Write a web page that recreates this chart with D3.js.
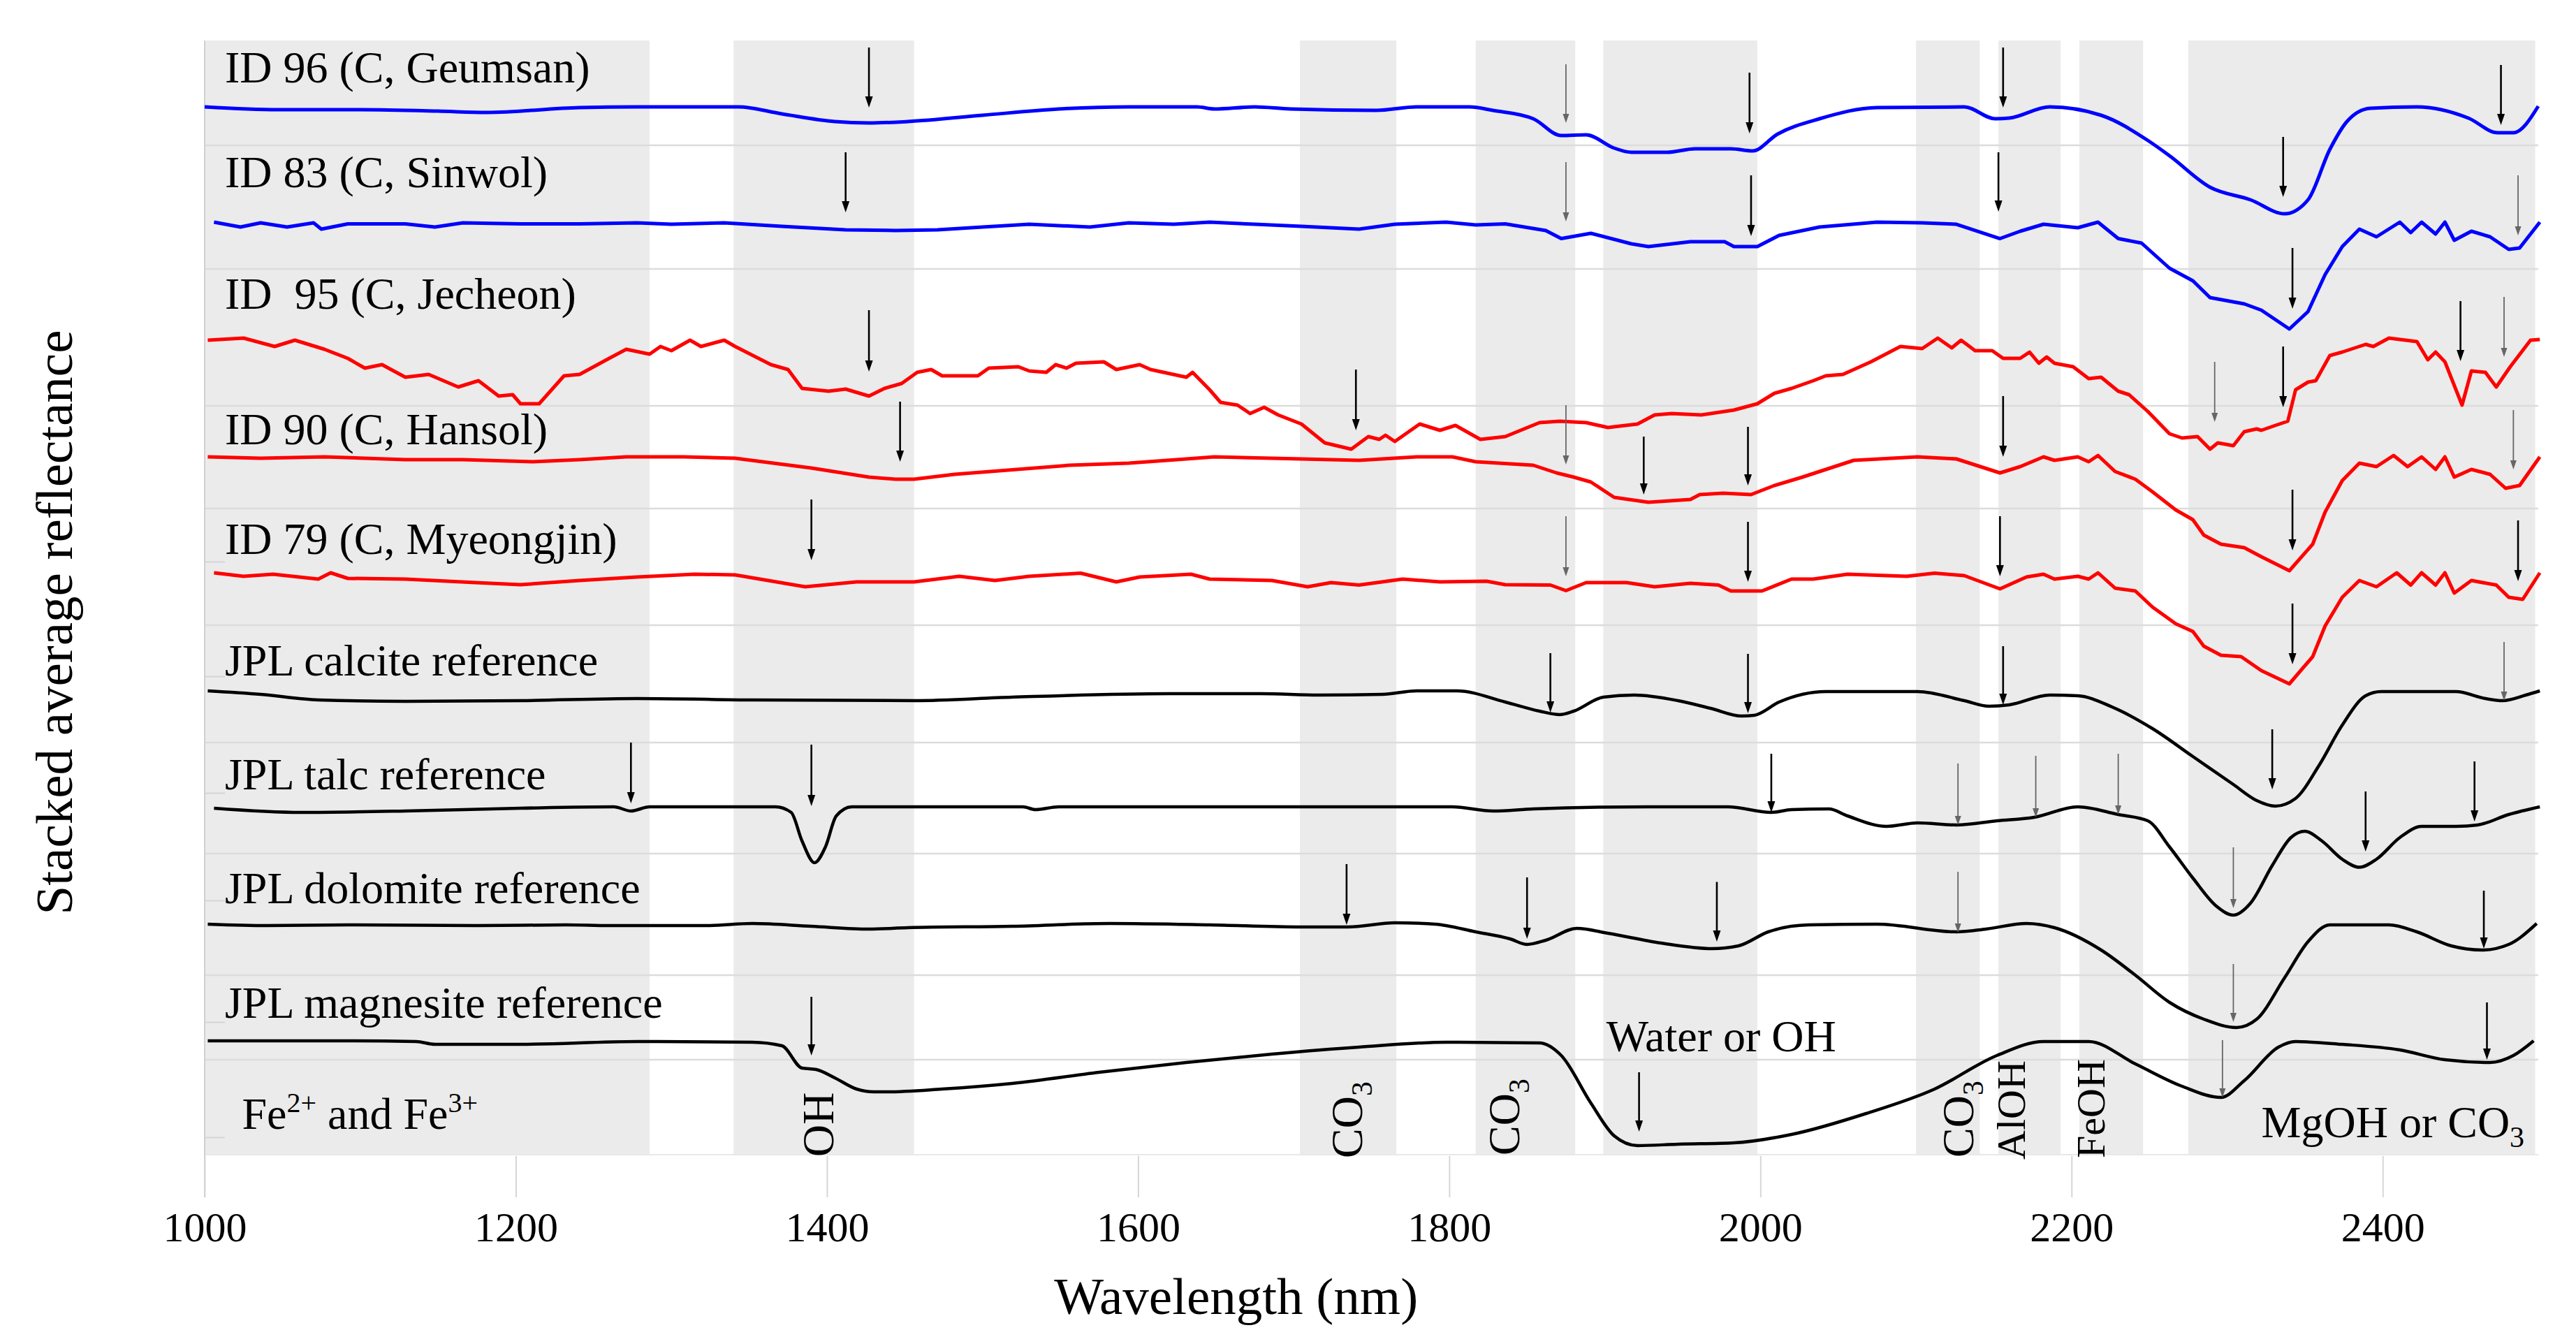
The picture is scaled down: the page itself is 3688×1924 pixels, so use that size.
<!DOCTYPE html>
<html>
<head>
<meta charset="utf-8">
<script src="https://cdn.jsdelivr.net/npm/d3@7"></script>
<style>
  body { margin: 0; background: #fff; }
  text { font-family: "Liberation Serif", "Times New Roman", serif; fill: #000; }
</style>
</head>
<body>
<div id="chart"></div>
<script>
const width = 3688;
const height = 1924;
const serif = '"Liberation Serif", "Times New Roman", serif';

// [wavelength nm, stacked reflectance]
const id96 = [[1000,150.0],[1047,149.6],[1100,149.6],[1150,149.4],[1181,149.2],[1241,149.9],[1278,150.0],[1343,150.0],[1371,149.0],[1405,147.9],[1427,147.7],[1452,147.9],[1500,148.8],[1549,149.7],[1594,150.0],[1638,150.0],[1649,149.7],[1675,150.0],[1698,149.7],[1753,149.5],[1779,150.0],[1813,150.0],[1828,149.5],[1854,148.3],[1872,145.9],[1888,146.0],[1906,144.1],[1917,143.5],[1940,143.5],[1958,144.0],[1981,144.0],[1995,143.7],[2011,146.1],[2038,148.3],[2075,149.9],[2131,150.0],[2151,148.3],[2160,148.4],[2186,150.0],[2219,148.8],[2249,145.2],[2263,143.0],[2289,138.5],[2315,136.7],[2337,134.7],[2352,136.7],[2366,143.9],[2377,147.9],[2392,149.8],[2422,150.0],[2455,148.4],[2474,146.3],[2484,146.3],[2500,150.1]];

const id83 = [[1006,133.5],[1023,132.8],[1036,133.4],[1053,132.8],[1070,133.4],[1075,132.5],[1092,133.25],[1129,133.25],[1148,132.8],[1166,133.4],[1203,133.25],[1241,133.25],[1278,133.4],[1300,133.2],[1334,133.4],[1371,132.9],[1412,132.4],[1444,132.3],[1471,132.4],[1500,132.8],[1530,133.2],[1569,132.8],[1594,133.4],[1623,133.2],[1646,133.5],[1675,133.2],[1705,132.9],[1742,132.5],[1765,133.2],[1798,133.5],[1817,133.1],[1836,133.25],[1862,132.3],[1872,131.15],[1891,131.9],[1917,130.4],[1928,130.0],[1955,130.7],[1977,130.7],[1983,130.0],[1998,130.0],[2012,131.6],[2038,132.8],[2075,133.5],[2104,133.4],[2126,133.2],[2154,131.15],[2167,132.2],[2182,133.2],[2204,132.7],[2217,133.5],[2230,131.15],[2245,130.5],[2263,126.9],[2278,125.1],[2289,122.7],[2311,121.8],[2322,120.9],[2340,118.2],[2352,120.7],[2363,126.0],[2374,130.0],[2385,132.5],[2396,131.4],[2411,133.5],[2418,132.0],[2425,133.5],[2434,131.8],[2440,133.5],[2446,130.9],[2457,132.2],[2469,131.4],[2481,129.6],[2488,129.8],[2501,133.5]];

const id95 = [[1002,116.6],[1025,116.9],[1045,115.7],[1058,116.6],[1077,115.3],[1092,114.0],[1103,112.6],[1114,113.1],[1129,111.3],[1144,111.7],[1163,109.9],[1176,110.8],[1189,108.6],[1198,108.8],[1203,107.5],[1215,107.5],[1231,111.5],[1241,111.7],[1260,114.0],[1271,115.3],[1286,114.6],[1293,115.7],[1300,115.1],[1312,116.6],[1319,115.7],[1334,116.6],[1341,115.7],[1364,113.1],[1375,112.4],[1384,109.7],[1401,109.3],[1412,109.6],[1427,108.6],[1437,109.7],[1448,110.4],[1458,112.0],[1467,112.4],[1474,111.5],[1497,111.5],[1504,112.6],[1523,112.8],[1530,112.2],[1541,112.0],[1547,113.1],[1554,112.6],[1560,113.3],[1578,113.5],[1586,112.4],[1601,113.1],[1608,112.4],[1631,111.3],[1635,112.0],[1646,109.5],[1653,107.7],[1664,107.3],[1672,106.1],[1681,107.0],[1690,105.9],[1705,104.6],[1720,101.9],[1737,101.0],[1748,102.8],[1755,102.4],[1759,103.0],[1765,102.1],[1781,104.6],[1794,103.7],[1804,104.4],[1820,102.4],[1836,102.8],[1858,104.8],[1871,105.0],[1888,104.8],[1902,104.1],[1921,104.6],[1932,105.9],[1943,106.1],[1962,105.9],[1977,106.4],[1983,106.6],[1998,107.5],[2009,109.0],[2020,109.7],[2034,110.8],[2042,111.5],[2053,111.7],[2071,113.5],[2090,115.7],[2104,115.4],[2114,116.9],[2123,115.5],[2129,116.6],[2138,115.1],[2149,115.1],[2156,114.0],[2167,114.0],[2173,114.9],[2179,113.3],[2184,114.2],[2189,113.3],[2201,112.8],[2211,111.1],[2219,111.3],[2230,109.3],[2237,108.8],[2249,106.4],[2263,103.2],[2271,102.6],[2281,102.8],[2289,101.0],[2294,101.9],[2304,101.5],[2311,103.5],[2319,103.9],[2322,103.7],[2331,104.4],[2339,105.0],[2344,109.5],[2352,110.6],[2357,110.8],[2366,114.4],[2374,114.9],[2389,116.0],[2394,115.7],[2404,116.9],[2422,116.4],[2429,113.8],[2434,114.9],[2440,113.5],[2451,107.3],[2457,112.2],[2466,112.0],[2473,109.9],[2482,112.8],[2495,116.6],[2501,116.7]];

const id90 = [[1002,99.9],[1036,99.7],[1077,99.9],[1129,99.5],[1166,99.5],[1211,99.2],[1241,99.5],[1271,99.9],[1308,99.9],[1341,99.7],[1390,98.3],[1427,97.0],[1444,96.7],[1456,96.7],[1482,97.4],[1556,98.7],[1594,99.0],[1631,99.6],[1649,99.9],[1705,99.6],[1742,99.4],[1779,99.9],[1802,99.9],[1817,99.2],[1854,98.7],[1869,97.6],[1880,97.0],[1891,96.3],[1906,94.1],[1928,93.4],[1955,93.8],[1961,94.5],[1976,94.7],[1994,94.5],[2009,95.8],[2027,97.0],[2060,99.4],[2101,99.9],[2126,99.6],[2154,97.6],[2167,98.5],[2182,99.9],[2189,99.4],[2204,99.9],[2211,99.2],[2217,100.1],[2228,97.8],[2241,96.7],[2252,94.9],[2267,92.3],[2278,90.9],[2285,88.7],[2296,87.4],[2311,86.9],[2322,85.6],[2340,83.6],[2355,87.4],[2363,92.0],[2374,96.5],[2385,99.0],[2396,98.5],[2407,100.1],[2416,98.5],[2425,99.9],[2434,98.1],[2440,99.9],[2446,97.0],[2457,98.1],[2469,97.4],[2479,95.4],[2488,95.8],[2501,99.9]];

const id79 = [[1006,83.3],[1025,82.8],[1044,83.1],[1073,82.4],[1081,83.3],[1092,82.5],[1129,82.4],[1174,81.9],[1203,81.6],[1241,82.2],[1278,82.7],[1315,83.1],[1341,83.0],[1386,81.3],[1419,82.0],[1456,82.0],[1485,82.8],[1508,82.2],[1530,82.8],[1563,83.25],[1586,82.0],[1601,82.7],[1634,83.1],[1646,82.4],[1686,82.2],[1709,81.3],[1724,81.9],[1742,81.55],[1770,82.4],[1794,82.0],[1824,82.1],[1836,81.6],[1865,81.55],[1875,80.75],[1888,81.9],[1914,81.9],[1932,81.3],[1955,81.8],[1973,81.55],[1981,80.7],[2001,80.7],[2020,82.4],[2034,82.4],[2056,83.1],[2094,82.8],[2112,83.25],[2131,82.9],[2154,81.0],[2171,82.7],[2182,83.1],[2189,82.4],[2204,82.8],[2211,82.4],[2217,83.3],[2228,81.1],[2241,80.7],[2252,78.4],[2267,76.0],[2278,74.9],[2285,72.8],[2296,71.5],[2309,71.3],[2322,69.3],[2340,67.4],[2355,71.3],[2363,75.7],[2374,79.8],[2385,82.2],[2396,81.3],[2409,83.3],[2418,81.55],[2425,83.3],[2434,81.55],[2440,83.3],[2446,80.4],[2457,82.2],[2473,81.55],[2481,79.8],[2490,79.5],[2501,83.3]];

const calcite = [[1002,66.4],[1036,65.9],[1073,65.1],[1129,64.9],[1203,65.0],[1278,65.3],[1352,65.1],[1456,65.0],[1519,65.5],[1620,66.0],[1679,66.0],[1716,65.8],[1757,65.9],[1779,66.4],[1805,66.4],[1836,64.8],[1858,63.5],[1871,63.0],[1880,63.5],[1899,65.5],[1919,65.8],[1947,65.0],[1968,63.9],[1988,62.8],[1996,62.9],[2012,64.8],[2042,66.3],[2101,66.3],[2131,65.0],[2147,64.2],[2160,64.4],[2186,65.8],[2204,65.7],[2226,64.1],[2252,61.0],[2278,57.0],[2304,53.0],[2319,50.7],[2331,49.9],[2344,51.0],[2359,55.7],[2374,61.5],[2389,65.7],[2399,66.3],[2447,66.3],[2466,65.3],[2477,65.0],[2492,65.8],[2501,66.4]];

const talc = [[1006,49.6],[1062,49.0],[1129,49.2],[1203,49.6],[1263,49.8],[1274,49.2],[1286,49.8],[1367,49.8],[1377,49.0],[1384,44.9],[1392,41.8],[1399,44.05],[1406,48.5],[1416,49.8],[1526,49.8],[1534,49.4],[1549,49.8],[1802,49.8],[1828,49.2],[1854,49.5],[1928,49.8],[1979,49.8],[2007,49.0],[2020,49.4],[2044,49.5],[2056,48.5],[2081,47.0],[2101,47.5],[2126,47.2],[2152,47.8],[2176,48.3],[2204,49.8],[2230,48.7],[2249,47.8],[2263,44.05],[2278,39.6],[2293,35.6],[2304,34.3],[2315,36.0],[2329,41.4],[2341,45.4],[2350,46.3],[2361,44.9],[2374,42.3],[2385,41.15],[2396,42.3],[2411,45.4],[2425,47.0],[2447,47.0],[2461,47.2],[2481,48.7],[2501,49.8]];

const dolomite = [[1002,33.0],[1040,32.8],[1092,32.9],[1176,32.8],[1233,32.9],[1260,32.8],[1323,32.8],[1352,33.1],[1390,32.7],[1427,32.3],[1452,32.5],[1519,32.7],[1582,33.1],[1646,32.9],[1705,32.6],[1735,32.6],[1765,33.2],[1791,33.0],[1817,31.9],[1839,30.9],[1850,30.1],[1862,30.7],[1882,32.4],[1902,31.7],[1936,30.3],[1969,29.5],[1986,29.9],[2005,31.9],[2031,32.9],[2075,33.0],[2126,31.9],[2145,32.3],[2171,33.1],[2189,32.5],[2219,29.3],[2241,25.7],[2263,21.8],[2285,19.4],[2306,18.2],[2319,19.4],[2337,25.35],[2352,30.5],[2366,32.9],[2404,32.9],[2422,31.9],[2444,29.9],[2464,29.3],[2481,30.1],[2499,33.1]];

const magnesite = [[1002,16.3],[1092,16.3],[1136,16.2],[1148,15.8],[1203,15.8],[1278,16.2],[1352,16.1],[1371,15.6],[1384,12.4],[1393,12.2],[1405,11.0],[1419,9.4],[1430,9.0],[1438,9.0],[1474,9.4],[1519,10.2],[1575,11.8],[1631,13.2],[1686,14.4],[1742,15.4],[1798,16.1],[1858,16.0],[1872,14.2],[1891,7.4],[1906,2.7],[1921,1.3],[1947,1.5],[1983,1.7],[2020,2.9],[2068,5.9],[2112,9.4],[2152,14.2],[2182,16.2],[2211,16.2],[2241,13.0],[2271,9.8],[2296,8.2],[2311,10.6],[2333,15.4],[2344,16.2],[2374,15.8],[2411,15.0],[2440,13.6],[2469,13.2],[2484,14.2],[2497,16.3]];

const seriesData = [id96, id83, id95, id90, id79, calcite, talc, dolomite, magnesite];
const seriesNames = ['ID 96 (C, Geumsan)', 'ID 83 (C, Sinwol)', 'ID  95 (C, Jecheon)', 'ID 90 (C, Hansol)',
  'ID 79 (C, Myeongjin)', 'JPL calcite reference', 'JPL talc reference', 'JPL dolomite reference',
  'JPL magnesite reference'];
const seriesColors = ['#0000ff', '#0000ff', '#ff0000', '#ff0000', '#ff0000', '#000', '#000', '#000', '#000'];
const seriesSmooth = [true, false, false, false, false, true, true, true, true];
const labelValues = [153.5, 138.5, 121.1, 101.7, 86.0, 68.6, 52.3, 36.0, 19.6];

// absorption windows, nm
const bands = [[1000, 1286], [1340, 1456], [1704, 1766], [1817, 1881], [1899, 1998],
  [2100, 2141], [2153, 2193], [2205, 2246], [2275, 2498]];

const gridValues = [144.5, 126.8, 107.2, 92.5, 75.8, 59.0, 43.1, 25.7, 13.6];
const leftTicks = [84.9, 68.5, 51.8, 36.4, 19.0, 2.5];
const xTicks = [1000, 1200, 1400, 1600, 1800, 2000, 2200, 2400];

// [nm, arrow top, arrow tip, dark]
const arrows = [
  [1427, 158.5, 149.9, 1], [1875, 156.1, 147.7, 0], [1993, 154.9, 146.2, 1], [2156, 158.5, 149.9, 1], [2336, 145.7, 137.1, 1], [2476, 156.0, 147.4, 1],
  [1412, 143.5, 134.9, 1], [1875, 142.1, 133.6, 0], [1994, 140.2, 131.5, 1], [2153, 143.5, 135.0, 1], [2342, 129.8, 121.1, 1], [2487, 140.2, 131.6, 0],
  [1427, 120.9, 112.1, 1], [1740, 112.4, 103.7, 1], [2292, 113.5, 104.9, 0], [2336, 115.7, 107.0, 1], [2450, 122.2, 113.6, 1], [2478, 122.8, 114.2, 0],
  [1447, 107.8, 99.2, 1], [1875, 107.3, 98.8, 0], [1925, 102.8, 94.5, 1], [1992, 104.2, 95.8, 1], [2156, 108.6, 99.9, 1], [2342, 95.2, 86.5, 1], [2484, 106.6, 98.1, 0],
  [1390, 93.8, 85.1, 1], [1875, 91.4, 82.8, 0], [1992, 90.6, 82.0, 1], [2154, 91.4, 82.8, 1], [2342, 78.9, 70.2, 1], [2487, 90.8, 82.1, 1],
  [1865, 71.8, 63.3, 1], [1992, 71.7, 63.2, 1], [2156, 72.8, 64.4, 1], [2329, 60.9, 52.3, 1], [2478, 73.4, 65.0, 0],
  [1274, 59.0, 50.3, 1], [1390, 58.7, 49.9, 1], [2007, 57.4, 49.0, 1], [2127, 56.0, 47.2, 0], [2177, 57.1, 48.3, 0], [2230, 57.4, 48.7, 0], [2304, 44.0, 35.3, 0], [2389, 52.0, 43.4, 1], [2459, 56.3, 47.7, 1],
  [1734, 41.6, 32.9, 1], [1850, 39.7, 30.9, 1], [1972, 39.05, 30.5, 1], [2127, 40.5, 31.8, 0], [2304, 27.3, 19.0, 0], [2465, 37.8, 29.5, 1],
  [1390, 22.6, 14.2, 1], [1922, 11.8, 3.3, 1], [2297, 16.4, 8.2, 0], [2467, 21.8, 13.6, 1]
];

// vertical band labels: [text, subscript, nm of baseline, value of start, size]
const bandLabels = [
  ['OH', '', 1404, -0.3, 64], ['CO', '3', 1744, -0.5, 64], ['CO', '3', 1845, -0.1, 64],
  ['CO', '3', 2137, -0.4, 64], ['AlOH', '', 2170, -0.7, 58], ['FeOH', '', 2221, -0.5, 58]
];

const x = d3.scaleLinear().domain([1000, 2500]).range([293, 3634]);
const y = d3.scaleLinear().domain([0, 160]).range([1653, 53]);

const svg = d3.select('#chart')
  .append('svg')
    .attr('width', width)
    .attr('height', height)
    .attr('font-family', serif);

svg.append('g')
  .selectAll('rect')
  .data(bands)
  .join('rect')
    .attr('x', d => x(d[0]))
    .attr('width', d => x(d[1]) - x(d[0]))
    .attr('y', y(159.5))
    .attr('height', y(0) - y(159.5))
    .attr('fill', '#ebebeb');

svg.append('g')
  .selectAll('line')
  .data(gridValues)
  .join('line')
    .attr('x1', x(1000))
    .attr('x2', x(2500))
    .attr('y1', d => y(d))
    .attr('y2', d => y(d))
    .attr('stroke', '#dcdcdc')
    .attr('stroke-width', 2.5);

svg.append('line')
  .attr('x1', x(1000)).attr('x2', x(2500))
  .attr('y1', y(0)).attr('y2', y(0))
  .attr('stroke', '#e8e8e8')
  .attr('stroke-width', 2);

svg.append('g')
  .attr('transform', `translate(${x(1000)},0)`)
  .call(d3.axisLeft(y).tickValues(leftTicks).tickSizeInner(-29).tickSizeOuter(0).tickFormat(''))
  .call(g => g.select('.domain').remove())
  .call(g => g.selectAll('line').attr('stroke', '#d4d4d4').attr('stroke-width', 2));

svg.append('line')
  .attr('x1', x(1000)).attr('x2', x(1000))
  .attr('y1', y(159.5)).attr('y2', y(0) + 61)
  .attr('stroke', '#d0d0d0')
  .attr('stroke-width', 2);

svg.append('g')
  .attr('class', 'axis')
  .attr('transform', `translate(0,${y(0) + 2})`)
  .call(d3.axisBottom(x).tickValues(xTicks).tickSize(59).tickPadding(20).tickFormat(d3.format('d')))
  .attr('font-family', serif)
  .attr('font-size', 60)
  .call(g => g.select('.domain').remove())
  .call(g => g.selectAll('line').attr('stroke', '#d6d6d6').attr('stroke-width', 2))
  .call(g => g.selectAll('text').attr('fill', '#000'));

const lineFor = smooth => d3.line()
  .x(d => x(d[0]))
  .y(d => y(d[1]))
  .curve(smooth ? d3.curveMonotoneX : d3.curveLinear);

seriesData.forEach((data, i) =>
  svg.append('path')
    .datum(data)
    .attr('d', lineFor(seriesSmooth[i]))
    .attr('fill', 'none')
    .attr('stroke', seriesColors[i])
    .attr('stroke-width', i < 5 ? 5 : 4.5)
    .attr('stroke-linejoin', 'round'));

svg.append('g')
  .selectAll('text')
  .data(seriesNames)
  .join('text')
    .attr('x', x(1013))
    .attr('y', (d, i) => y(labelValues[i]))
    .attr('font-size', 64)
    .style('white-space', 'pre')
    .text(d => d);

const drawArrow = ([nm, top, tip, dark]) => {
  const cx = x(nm);
  const ty = y(tip);
  const hl = dark ? 16 : 13;
  const hw = dark ? 5.5 : 4.5;
  const color = dark ? '#000' : '#666';
  svg.append('line')
    .attr('x1', cx).attr('x2', cx)
    .attr('y1', y(top)).attr('y2', ty - hl + 2)
    .attr('stroke', color)
    .attr('stroke-width', dark ? 2.6 : 1.8);
  svg.append('path')
    .attr('d', `M${cx - hw},${ty - hl}L${cx + hw},${ty - hl}L${cx},${ty}Z`)
    .attr('fill', color);
};
arrows.forEach(drawArrow);

bandLabels.forEach(([main, sub, nm, v, size]) => {
  const t = svg.append('text')
    .attr('transform', `translate(${x(nm)},${y(v)}) rotate(-90)`)
    .attr('font-size', size)
    .text(main);
  if (sub) t.append('tspan').attr('dy', 14).attr('font-size', 42).text(sub);
});

const fe = svg.append('text')
  .attr('x', x(1024)).attr('y', y(3.7))
  .attr('font-size', 64);
fe.append('tspan').text('Fe');
fe.append('tspan').attr('dy', -24).attr('font-size', 40).text('2+');
fe.append('tspan').attr('dy', 24).text(' and Fe');
fe.append('tspan').attr('dy', -24).attr('font-size', 40).text('3+');

svg.append('text')
  .attr('x', x(1901)).attr('y', y(14.8))
  .attr('font-size', 64)
  .text('Water or OH');

const mg = svg.append('text')
  .attr('x', x(2322)).attr('y', y(2.5))
  .attr('font-size', 64);
mg.append('tspan').text('MgOH or CO');
mg.append('tspan').attr('dy', 14).attr('font-size', 42).text('3');

svg.append('text')
  .attr('x', x(1663)).attr('y', 1881)
  .attr('text-anchor', 'middle')
  .attr('font-size', 75)
  .text('Wavelength (nm)');

svg.append('text')
  .attr('transform', 'translate(103,891) rotate(-90)')
  .attr('text-anchor', 'middle')
  .attr('font-size', 75)
  .text('Stacked average reflectance');
</script>
</body>
</html>
